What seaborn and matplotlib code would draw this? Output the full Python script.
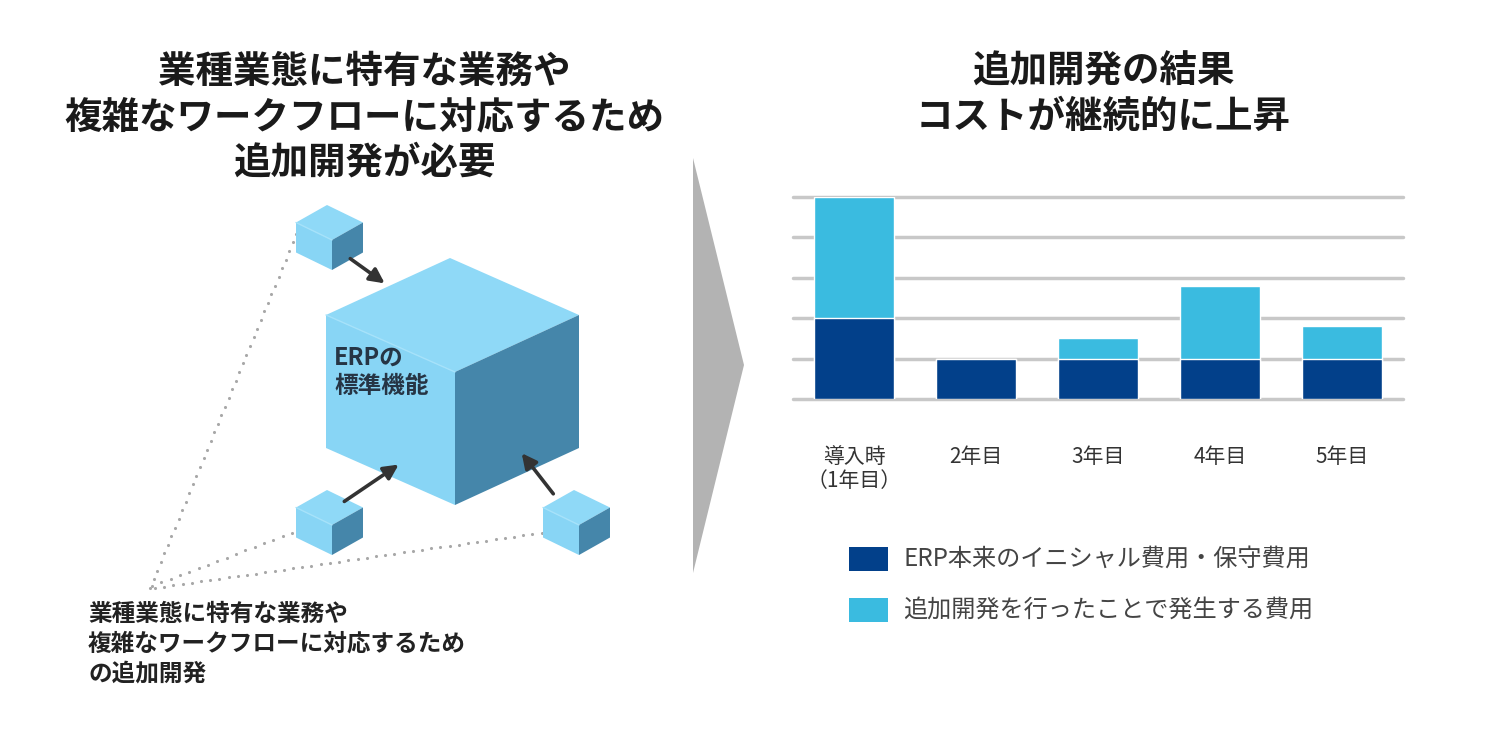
import numpy as np
import pandas as pd
import matplotlib
matplotlib.use("Agg")
import matplotlib.pyplot as plt
from matplotlib.patches import Polygon, Rectangle
import seaborn as sns

# data
categories = ["導入時\n（1年目）", "2年目", "3年目", "4年目", "5年目"]
base_cost = [2.0, 1.0, 1.0, 1.0, 1.0]      # ERP本来のイニシャル費用・保守費用
extra_cost = [3.0, 0.0, 0.5, 1.8, 0.8]     # 追加開発を行ったことで発生する費用
legend_labels = ["ERP本来のイニシャル費用・保守費用", "追加開発を行ったことで発生する費用"]

left_title = "業種業態に特有な業務や\n複雑なワークフローに対応するため\n追加開発が必要"
right_title = "追加開発の結果\nコストが継続的に上昇"
cube_label = "ERPの\n標準機能"
note_text = "業種業態に特有な業務や\n複雑なワークフローに対応するため\nの追加開発"

DARK = "#02408a"
LIGHT = "#3abbe0"

sns.set_theme(style="white")
plt.rcParams["font.family"] = ["Noto Sans CJK JP", "DejaVu Sans"]

df = pd.DataFrame({"cat": categories, "base": base_cost, "extra": extra_cost})
df["total"] = df["base"] + df["extra"]

fig = plt.figure(figsize=(15, 7.45), dpi=100)

# overlay axes in pixel coordinates
ov = fig.add_axes([0, 0, 1, 1], zorder=0)
ov.set_xlim(0, 1500)
ov.set_ylim(745, 0)
ov.axis("off")


def cube(ax, fx, fy, wl, wr, dy, h, z=2):
    lt = (fx - wl, fy - dy)
    rt = (fx + wr, fy - dy)
    back = (lt[0] + rt[0] - fx, lt[1] + rt[1] - fy)
    ax.add_patch(Polygon([(fx, fy), lt, back, rt], closed=True, fc="#8fd9f7", ec="none", zorder=z))
    ax.add_patch(Polygon([(fx, fy), lt, (lt[0], lt[1] + h), (fx, fy + h)], closed=True,
                         fc="#88d5f5", ec="none", zorder=z))
    ax.add_patch(Polygon([(fx, fy), rt, (rt[0], rt[1] + h), (fx, fy + h)], closed=True,
                         fc="#4586aa", ec="none", zorder=z))
    ax.plot([lt[0], fx], [lt[1], fy], color="#a6e2fa", lw=1, zorder=z + 0.1)


def dots(ax, p0, p1, step=9):
    n = int(np.hypot(p1[0] - p0[0], p1[1] - p0[1]) / step)
    xs = np.linspace(p0[0], p1[0], n)
    ys = np.linspace(p0[1], p1[1], n)
    ax.scatter(xs, ys, s=5, color="#a8a8a8", zorder=1, linewidths=0)


# dotted guide lines
dots(ov, (150, 588), (300, 225))
dots(ov, (152, 586), (320, 522))
dots(ov, (155, 588), (560, 530))

# cubes
cube(ov, 455, 372, 129, 124, 57, 133)
cube(ov, 332, 240, 36, 31, 17.5, 30)
cube(ov, 332, 525, 36, 31, 17.5, 30)
cube(ov, 579, 525, 36, 31, 17.5, 30)

ov.text(334, 372, cube_label, ha="left", va="center", fontsize=17, fontweight="bold",
        color="#263545", linespacing=1.25, zorder=5)

# arrows toward main cube
arrow_kw = dict(arrowstyle="-|>", color="#333333", lw=2.6, mutation_scale=22)
for start, end in [((348, 257), (387, 285)), ((342, 503), (401, 463)), ((555, 496), (520, 451))]:
    ov.annotate("", xy=end, xytext=start, arrowprops=arrow_kw, zorder=6)

# grey chevron
ov.add_patch(Polygon([(693, 158), (744, 365), (693, 573)], closed=True, fc="#b3b3b3", ec="none"))

# titles and notes
ov.text(364, 117, left_title, ha="center", va="center", fontsize=27, fontweight="bold",
        color="#1a1a1a", linespacing=1.2)
ov.text(1103, 94, right_title, ha="center", va="center", fontsize=27, fontweight="bold",
        color="#1a1a1a", linespacing=1.2)
ov.text(88, 644, note_text, ha="left", va="center", fontsize=17, fontweight="bold",
        color="#222222", linespacing=1.3)

# legend
for i, (lab, col) in enumerate(zip(legend_labels, [DARK, LIGHT])):
    y = 559 + i * 51
    ov.add_patch(Rectangle((849, y - 12), 39, 24, fc=col, ec="none"))
    ov.text(903, y, lab, ha="left", va="center", fontsize=17.4, color="#444444")

# bar chart
ax = fig.add_axes([793 / 1500, 1 - 399 / 745, 610 / 1500, (399 - 197) / 745], zorder=3)
ax.patch.set_alpha(0)
for v in range(0, 6):
    ax.axhline(v, color="#c8c8c8", lw=2.5, zorder=0, clip_on=False)
sns.barplot(data=df, x="cat", y="total", color=LIGHT, width=0.66, saturation=1, ax=ax, zorder=2)
sns.barplot(data=df, x="cat", y="base", color=DARK, width=0.66, saturation=1, ax=ax, zorder=3)
ax.set_xlim(-0.5, 4.5)
ax.set_ylim(0, 5)
ax.set_xlabel("")
ax.set_ylabel("")
ax.set_yticks([])
ax.tick_params(axis="x", length=0, pad=34, labelsize=15, labelcolor="#333333")
for lbl in ax.get_xticklabels():
    lbl.set_linespacing(1.1)
sns.despine(ax=ax, left=True, bottom=True)

fig.savefig("out.png", dpi=100, facecolor="white")
